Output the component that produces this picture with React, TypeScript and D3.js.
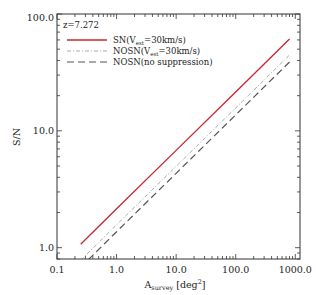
import React from "react";
import * as d3 from "d3";

// survey area [deg^2] and S/N for each model
const area = [0.25, 1, 10, 100, 800];
const snVest = [1.07, 2.15, 6.8, 21.5, 61];
const nosnVest = [0.78, 1.57, 4.97, 15.7, 44.6];
const nosnNoSupp = [0.68, 1.37, 4.33, 13.7, 38.8];

const xTickLabels = ["0.1", "1.0", "10.0", "100.0", "1000.0"];
const yTickLabels = ["1.0", "10.0", "100.0"];

const W = 316;
const H = 295;
const m = { left: 57, right: 300, top: 14, bottom: 259 };
const font = "DejaVu Serif";

export default function App() {
  const x = d3.scaleLog().domain([0.1, 1200]).range([m.left, m.right]);
  const y = d3.scaleLog().domain([0.8, 100]).range([m.bottom, m.top]);

  const line = (vals: number[]) =>
    d3
      .line<number>()
      .x((_, i) => x(area[i]))
      .y((d) => y(d))(vals) as string;

  const series = [
    { vals: snVest, color: "#c8262c", dash: "", width: 1.3, label: "SN", sub: true },
    { vals: nosnVest, color: "#aaaaaa", dash: "4,2,1,2", width: 1, label: "NOSN", sub: true },
    { vals: nosnNoSupp, color: "#555555", dash: "7,4", width: 1.2, label: "NOSN", sub: false },
  ];

  const xMajors = xTickLabels.map(Number);
  const xMinors: number[] = [];
  for (let e = -1; e <= 3; e++)
    for (let k = 2; k <= 9; k++) {
      const v = k * Math.pow(10, e);
      if (v < 1200) xMinors.push(v);
    }
  const yMajors = yTickLabels.map(Number);
  const yMinors: number[] = [0.8, 0.9];
  for (let e = 0; e <= 1; e++)
    for (let k = 2; k <= 9; k++) yMinors.push(k * Math.pow(10, e));

  const axisColor = "#333";
  const major = 5;
  const minor = 3;

  return (
    <svg width={W} height={H} style={{ position: "absolute", left: 0, top: 0 }}>
      <rect width={W} height={H} fill="#fff" />
      <defs>
        <clipPath id="plot">
          <rect x={m.left} y={m.top} width={m.right - m.left} height={m.bottom - m.top} />
        </clipPath>
      </defs>

      <g clipPath="url(#plot)">
        {series.map((s, i) => (
          <path
            key={i}
            d={line(s.vals)}
            fill="none"
            stroke={s.color}
            strokeWidth={s.width}
            strokeDasharray={s.dash}
          />
        ))}
      </g>

      <rect
        x={m.left}
        y={m.top}
        width={m.right - m.left}
        height={m.bottom - m.top}
        fill="none"
        stroke={axisColor}
        strokeWidth={1}
      />

      <g stroke={axisColor} strokeWidth={0.8}>
        {xMajors.map((v) => (
          <g key={"xM" + v}>
            <line x1={x(v)} x2={x(v)} y1={m.bottom} y2={m.bottom - major} />
            <line x1={x(v)} x2={x(v)} y1={m.top} y2={m.top + major} />
          </g>
        ))}
        {xMinors.map((v) => (
          <g key={"xm" + v}>
            <line x1={x(v)} x2={x(v)} y1={m.bottom} y2={m.bottom - minor} />
            <line x1={x(v)} x2={x(v)} y1={m.top} y2={m.top + minor} />
          </g>
        ))}
        {yMajors.map((v) => (
          <g key={"yM" + v}>
            <line x1={m.left} x2={m.left + major} y1={y(v)} y2={y(v)} />
            <line x1={m.right} x2={m.right - major} y1={y(v)} y2={y(v)} />
          </g>
        ))}
        {yMinors.map((v) => (
          <g key={"ym" + v}>
            <line x1={m.left} x2={m.left + minor} y1={y(v)} y2={y(v)} />
            <line x1={m.right} x2={m.right - minor} y1={y(v)} y2={y(v)} />
          </g>
        ))}
      </g>

      <g fontFamily={font} fontSize={9.5} fill="#222">
        {xTickLabels.map((t, i) => (
          <text key={t} x={x(xMajors[i])} y={m.bottom + 14} textAnchor="middle">
            {t}
          </text>
        ))}
        {yTickLabels.map((t, i) => (
          <text key={t} x={m.left - 3} y={Math.max(y(yMajors[i]), 17) + 3.5} textAnchor="end">
            {t}
          </text>
        ))}
        <text x={20} y={137} textAnchor="middle" transform="rotate(-90,20,137)">
          S/N
        </text>
        <text x={175} y={288} textAnchor="middle">
          A<tspan fontSize={6.5} dy={2}>survey</tspan>
          <tspan dy={-2}> [deg</tspan>
          <tspan fontSize={6.5} dy={-4}>2</tspan>
          <tspan dy={4}>]</tspan>
        </text>

        <text x={63} y={28} fontSize={8.5}>z=7.272</text>
        {series.map((s, i) => {
          const ly = 40 + i * 11;
          return (
            <g key={"lg" + i}>
              <line
                x1={67}
                x2={107}
                y1={ly}
                y2={ly}
                stroke={s.color}
                strokeWidth={s.width}
                strokeDasharray={s.dash}
              />
              <text x={113} y={ly + 3} fontSize={8.5}>
                {s.label}(
                {s.sub ? (
                  <>
                    V<tspan fontSize={5.5} dy={2}>est</tspan>
                    <tspan dy={-2}>=30km/s)</tspan>
                  </>
                ) : (
                  "no suppression)"
                )}
              </text>
            </g>
          );
        })}
      </g>
    </svg>
  );
}
